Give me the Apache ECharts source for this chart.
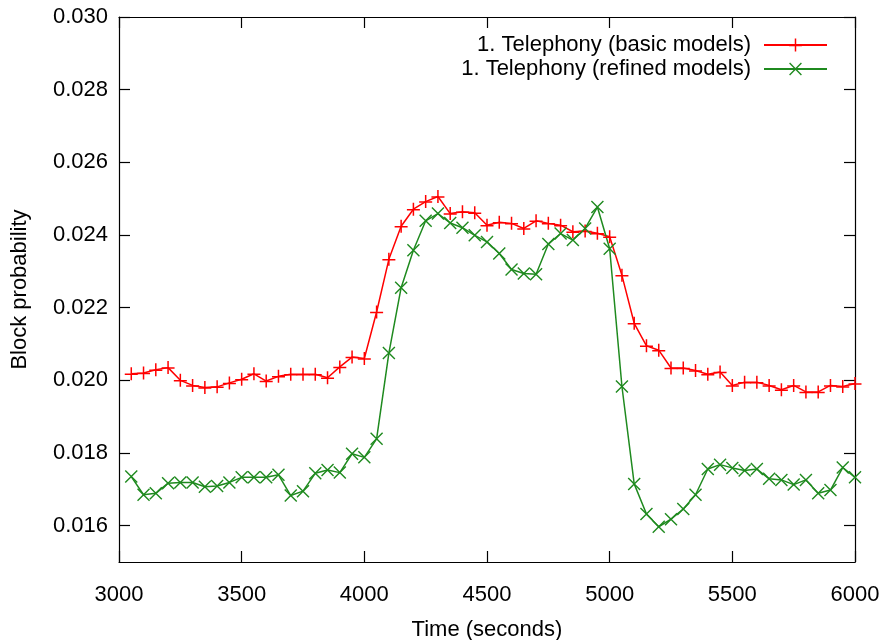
<!DOCTYPE html>
<html>
<head>
<meta charset="utf-8">
<script src="https://cdn.jsdelivr.net/npm/echarts@6/dist/echarts.min.js"></script>
<style>
html,body{margin:0;padding:0;background:#fff;}
#chart{width:880px;height:640px;}
</style>
</head>
<body>
<div id="chart"></div>
<script>
var times = [3050,3100,3150,3200,3250,3300,3350,3400,3450,3500,
             3550,3600,3650,3700,3750,3800,3850,3900,3950,4000,
             4050,4100,4150,4200,4250,4300,4350,4400,4450,4500,
             4550,4600,4650,4700,4750,4800,4850,4900,4950,5000,
             5050,5100,5150,5200,5250,5300,5350,5400,5450,5500,
             5550,5600,5650,5700,5750,5800,5850,5900,5950,6000];
var basicModels = [0.02018,0.02020,0.02029,0.02035,0.02000,0.01986,0.01980,0.01982,0.01993,0.02003,
                   0.02018,0.01998,0.02011,0.02017,0.02017,0.02017,0.02007,0.02037,0.02064,0.02060,
                   0.02188,0.02333,0.02424,0.02471,0.02492,0.02506,0.02459,0.02464,0.02461,0.02427,
                   0.02435,0.02432,0.02418,0.02439,0.02432,0.02427,0.02409,0.02411,0.02405,0.02395,
                   0.02289,0.02157,0.02095,0.02083,0.02034,0.02034,0.02027,0.02017,0.02023,0.01986,
                   0.01995,0.01995,0.01986,0.01974,0.01986,0.01968,0.01968,0.01986,0.01983,0.01991];
var refinedModels = [0.01735,0.01685,0.01689,0.01717,0.01719,0.01719,0.01707,0.01709,0.01719,0.01733,
                     0.01733,0.01733,0.01740,0.01683,0.01695,0.01744,0.01753,0.01746,0.01798,0.01788,
                     0.01839,0.02075,0.02255,0.02358,0.02439,0.02459,0.02433,0.02420,0.02399,0.02381,
                     0.02349,0.02305,0.02294,0.02292,0.02375,0.02404,0.02386,0.02418,0.02477,0.02362,
                     0.01983,0.01715,0.01632,0.01597,0.01618,0.01646,0.01685,0.01756,0.01768,0.01759,
                     0.01752,0.01756,0.01729,0.01726,0.01713,0.01726,0.01689,0.01698,0.01760,0.01733];
var yTickValues = [0.016,0.018,0.020,0.022,0.024,0.026,0.028,0.030];
var seriesNames = ['1. Telephony (basic models)','1. Telephony (refined models)'];

var FONT = 'Liberation Sans';
var plusSym = 'path://M0,6.25h13v1.5h-13z M5.75,0h1.5v13h-1.5z';
var crossSym = 'path://M0,1 L1,0 L13,12 L12,13 Z M12,0 L13,1 L1,13 L0,12 Z';
var RED = '#ff0000', GREEN = '#1f8a1f';

function pair(xs, ys){ return xs.map(function(x,i){ return [x, ys[i]]; }); }

var axisLineStyle = {show:true, lineStyle:{color:'#000', width:1.2}};
var tickStyle = {show:true, inside:true, length:11, lineStyle:{color:'#000', width:1.2}};

var chart = echarts.init(document.getElementById('chart'), null, {renderer:'canvas'});
chart.setOption({
  animation:false,
  backgroundColor:'#fff',
  textStyle:{fontFamily:FONT},
  grid:{left:119, right:25, top:17, bottom:78, containLabel:false, outerBoundsMode:'none'},
  legend:{
    orient:'vertical', right:47, top:29, align:'right',
    itemWidth:63, itemHeight:16, itemGap:2,
    textStyle:{fontFamily:FONT, fontSize:22, color:'#000', padding:[0,8,0,0]},
    data:seriesNames
  },
  xAxis:[
    {type:'value', min:3000, max:6000, interval:500, position:'bottom',
     axisLine:axisLineStyle, axisTick:tickStyle, splitLine:{show:false},
     axisLabel:{fontFamily:FONT, fontSize:22, color:'#000', margin:22,
                formatter:function(v){ return String(v); }},
     name:'Time (seconds)', nameLocation:'middle', nameGap:57,
     nameTextStyle:{fontFamily:FONT, fontSize:22, color:'#000'}},
    {type:'value', min:3000, max:6000, interval:500, position:'top',
     axisLine:axisLineStyle, axisTick:tickStyle, splitLine:{show:false},
     axisLabel:{show:false}}
  ],
  yAxis:[
    {type:'value', min:0.015, max:0.030, interval:0.001, position:'left',
     axisLine:axisLineStyle,
     axisTick:{show:true, inside:true, length:11, lineStyle:{color:'#000', width:1.2}, customValues:yTickValues},
     splitLine:{show:false},
     axisLabel:{fontFamily:FONT, fontSize:22, color:'#000', margin:11, customValues:yTickValues,
                formatter:function(v){ return v.toFixed(3); }},
     name:'Block probability', nameLocation:'middle', nameGap:88, nameRotate:90,
     nameTextStyle:{fontFamily:FONT, fontSize:22, color:'#000'}},
    {type:'value', min:0.015, max:0.030, interval:0.001, position:'right',
     axisLine:axisLineStyle,
     axisTick:{show:true, inside:true, length:11, lineStyle:{color:'#000', width:1.2}, customValues:yTickValues},
     splitLine:{show:false}, axisLabel:{show:false}}
  ],
  series:[
    {name:seriesNames[0], type:'line', xAxisIndex:0, yAxisIndex:0,
     data:pair(times, basicModels),
     symbol:plusSym, symbolSize:13, symbolKeepAspect:true, showAllSymbol:true,
     lineStyle:{color:RED, width:1.5}, itemStyle:{color:RED}},
    {name:seriesNames[1], type:'line', xAxisIndex:0, yAxisIndex:0,
     data:pair(times, refinedModels),
     symbol:crossSym, symbolSize:13, symbolKeepAspect:true, showAllSymbol:true,
     lineStyle:{color:GREEN, width:1.5}, itemStyle:{color:GREEN}}
  ]
});
</script>
</body>
</html>
